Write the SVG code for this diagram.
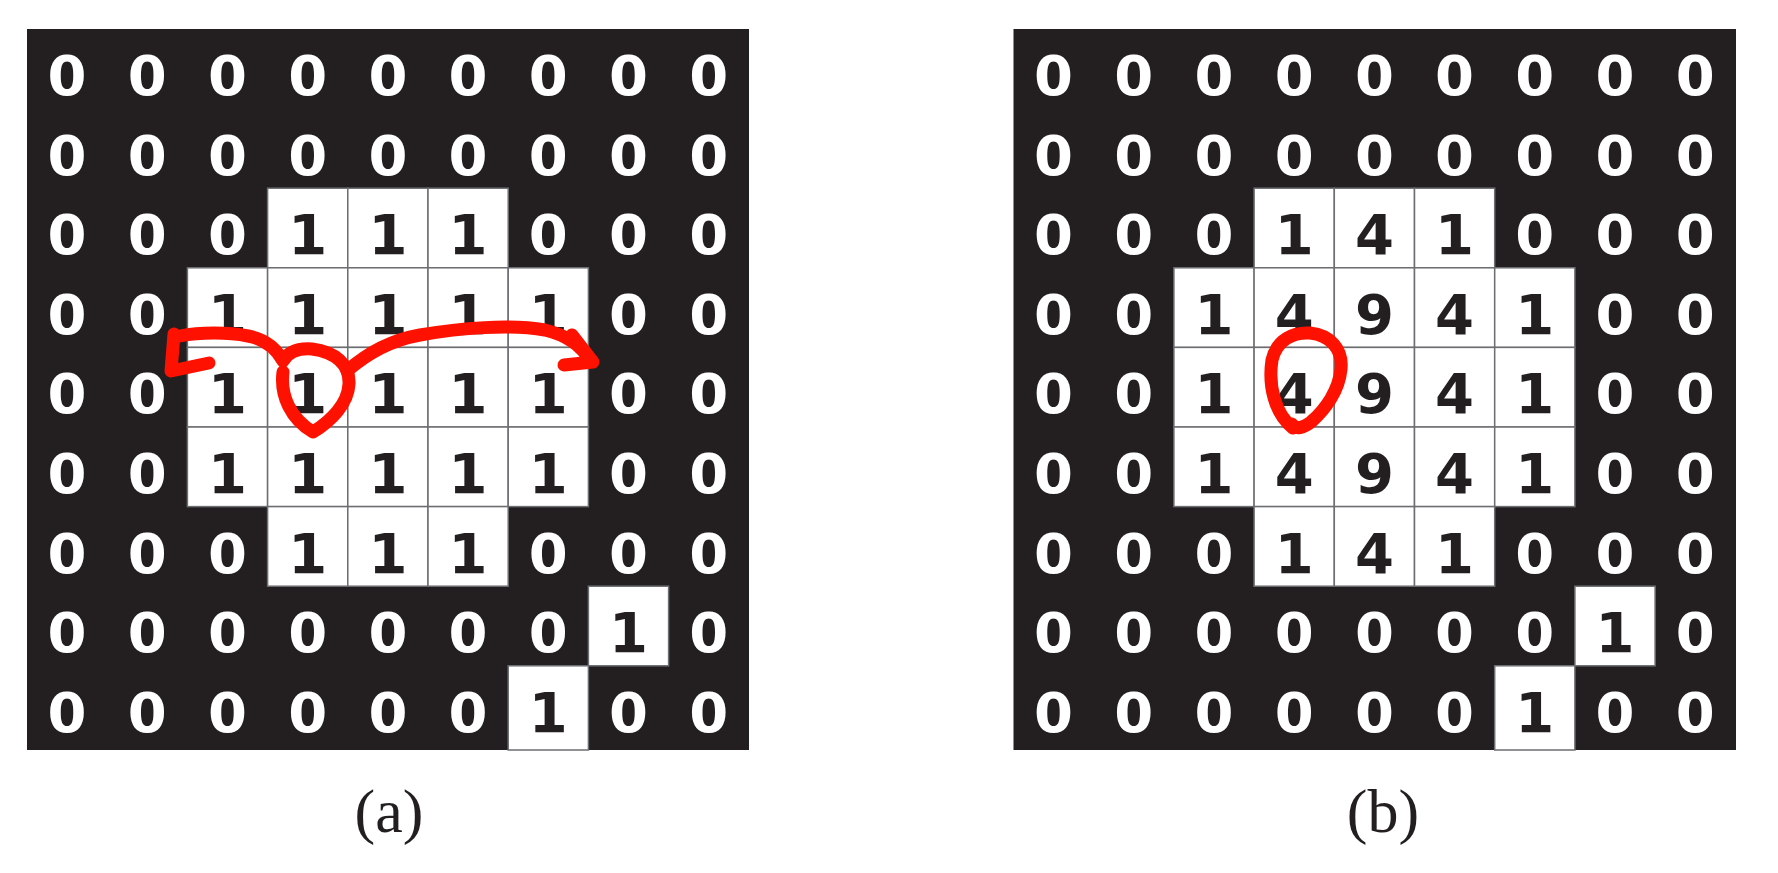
<svg xmlns="http://www.w3.org/2000/svg" width="1778" height="873" viewBox="0 0 1778 873">
<style>
.bg{fill:#231f20}
.cell{fill:#ffffff;stroke:#6d6e71;stroke-width:1.5}
.d text{font-family:"DejaVu Sans",Verdana,sans-serif;font-weight:bold;font-size:56px;text-anchor:middle;fill:#ffffff}
.d text.k{fill:#231f20}
.lab{font-family:"Liberation Serif","Times New Roman",serif;font-size:62px;fill:#231f20;text-anchor:middle}
.red{fill:none;stroke:#ff1100;stroke-width:13;stroke-linecap:round;stroke-linejoin:round}
</style>
<rect width="1778" height="873" fill="#ffffff"/>
<g id="panel-a" transform="translate(27,29)">
<rect class="bg" x="0" y="0" width="722" height="721"/>
<g id="cells-a">
<rect class="cell" x="240.6" y="159.2" width="80.2" height="79.6"/>
<rect class="cell" x="320.8" y="159.2" width="80.2" height="79.6"/>
<rect class="cell" x="401" y="159.2" width="80.2" height="79.6"/>
<rect class="cell" x="160.4" y="238.8" width="80.2" height="79.6"/>
<rect class="cell" x="240.6" y="238.8" width="80.2" height="79.6"/>
<rect class="cell" x="320.8" y="238.8" width="80.2" height="79.6"/>
<rect class="cell" x="401" y="238.8" width="80.2" height="79.6"/>
<rect class="cell" x="481.2" y="238.8" width="80.2" height="79.6"/>
<rect class="cell" x="160.4" y="318.4" width="80.2" height="79.6"/>
<rect class="cell" x="240.6" y="318.4" width="80.2" height="79.6"/>
<rect class="cell" x="320.8" y="318.4" width="80.2" height="79.6"/>
<rect class="cell" x="401" y="318.4" width="80.2" height="79.6"/>
<rect class="cell" x="481.2" y="318.4" width="80.2" height="79.6"/>
<rect class="cell" x="160.4" y="398" width="80.2" height="79.6"/>
<rect class="cell" x="240.6" y="398" width="80.2" height="79.6"/>
<rect class="cell" x="320.8" y="398" width="80.2" height="79.6"/>
<rect class="cell" x="401" y="398" width="80.2" height="79.6"/>
<rect class="cell" x="481.2" y="398" width="80.2" height="79.6"/>
<rect class="cell" x="240.6" y="477.6" width="80.2" height="79.6"/>
<rect class="cell" x="320.8" y="477.6" width="80.2" height="79.6"/>
<rect class="cell" x="401" y="477.6" width="80.2" height="79.6"/>
<rect class="cell" x="561.4" y="557.2" width="80.2" height="79.6"/>
<rect class="cell" x="481.2" y="636.8" width="80.2" height="84.2"/>
</g>
<g id="values-a" class="d">
<g transform="translate(0,66)"><text x="40.1">0</text><text x="120.3">0</text><text x="200.5">0</text><text x="280.7">0</text><text x="360.9">0</text><text x="441.1">0</text><text x="521.3">0</text><text x="601.5">0</text><text x="681.7">0</text></g>
<g transform="translate(0,145.6)"><text x="40.1">0</text><text x="120.3">0</text><text x="200.5">0</text><text x="280.7">0</text><text x="360.9">0</text><text x="441.1">0</text><text x="521.3">0</text><text x="601.5">0</text><text x="681.7">0</text></g>
<g transform="translate(0,225.2)"><text x="40.1">0</text><text x="120.3">0</text><text x="200.5">0</text><text class="k" x="280.7">1</text><text class="k" x="360.9">1</text><text class="k" x="441.1">1</text><text x="521.3">0</text><text x="601.5">0</text><text x="681.7">0</text></g>
<g transform="translate(0,304.8)"><text x="40.1">0</text><text x="120.3">0</text><text class="k" x="200.5">1</text><text class="k" x="280.7">1</text><text class="k" x="360.9">1</text><text class="k" x="441.1">1</text><text class="k" x="521.3">1</text><text x="601.5">0</text><text x="681.7">0</text></g>
<g transform="translate(0,384.4)"><text x="40.1">0</text><text x="120.3">0</text><text class="k" x="200.5">1</text><text class="k" x="280.7">1</text><text class="k" x="360.9">1</text><text class="k" x="441.1">1</text><text class="k" x="521.3">1</text><text x="601.5">0</text><text x="681.7">0</text></g>
<g transform="translate(0,464)"><text x="40.1">0</text><text x="120.3">0</text><text class="k" x="200.5">1</text><text class="k" x="280.7">1</text><text class="k" x="360.9">1</text><text class="k" x="441.1">1</text><text class="k" x="521.3">1</text><text x="601.5">0</text><text x="681.7">0</text></g>
<g transform="translate(0,543.6)"><text x="40.1">0</text><text x="120.3">0</text><text x="200.5">0</text><text class="k" x="280.7">1</text><text class="k" x="360.9">1</text><text class="k" x="441.1">1</text><text x="521.3">0</text><text x="601.5">0</text><text x="681.7">0</text></g>
<g transform="translate(0,623.2)"><text x="40.1">0</text><text x="120.3">0</text><text x="200.5">0</text><text x="280.7">0</text><text x="360.9">0</text><text x="441.1">0</text><text x="521.3">0</text><text class="k" x="601.5">1</text><text x="681.7">0</text></g>
<g transform="translate(0,702.8)"><text x="40.1">0</text><text x="120.3">0</text><text x="200.5">0</text><text x="280.7">0</text><text x="360.9">0</text><text x="441.1">0</text><text class="k" x="521.3">1</text><text x="601.5">0</text><text x="681.7">0</text></g>
</g>
</g>
<g id="panel-b" transform="translate(1013.5,29)">
<rect class="bg" x="0" y="0" width="722.5" height="721"/>
<g id="cells-b">
<rect class="cell" x="240.6" y="159.2" width="80.2" height="79.6"/>
<rect class="cell" x="320.8" y="159.2" width="80.2" height="79.6"/>
<rect class="cell" x="401" y="159.2" width="80.2" height="79.6"/>
<rect class="cell" x="160.4" y="238.8" width="80.2" height="79.6"/>
<rect class="cell" x="240.6" y="238.8" width="80.2" height="79.6"/>
<rect class="cell" x="320.8" y="238.8" width="80.2" height="79.6"/>
<rect class="cell" x="401" y="238.8" width="80.2" height="79.6"/>
<rect class="cell" x="481.2" y="238.8" width="80.2" height="79.6"/>
<rect class="cell" x="160.4" y="318.4" width="80.2" height="79.6"/>
<rect class="cell" x="240.6" y="318.4" width="80.2" height="79.6"/>
<rect class="cell" x="320.8" y="318.4" width="80.2" height="79.6"/>
<rect class="cell" x="401" y="318.4" width="80.2" height="79.6"/>
<rect class="cell" x="481.2" y="318.4" width="80.2" height="79.6"/>
<rect class="cell" x="160.4" y="398" width="80.2" height="79.6"/>
<rect class="cell" x="240.6" y="398" width="80.2" height="79.6"/>
<rect class="cell" x="320.8" y="398" width="80.2" height="79.6"/>
<rect class="cell" x="401" y="398" width="80.2" height="79.6"/>
<rect class="cell" x="481.2" y="398" width="80.2" height="79.6"/>
<rect class="cell" x="240.6" y="477.6" width="80.2" height="79.6"/>
<rect class="cell" x="320.8" y="477.6" width="80.2" height="79.6"/>
<rect class="cell" x="401" y="477.6" width="80.2" height="79.6"/>
<rect class="cell" x="561.4" y="557.2" width="80.2" height="79.6"/>
<rect class="cell" x="481.2" y="636.8" width="80.2" height="84.2"/>
</g>
<g id="values-b" class="d">
<g transform="translate(0,66)"><text x="40.1">0</text><text x="120.3">0</text><text x="200.5">0</text><text x="280.7">0</text><text x="360.9">0</text><text x="441.1">0</text><text x="521.3">0</text><text x="601.5">0</text><text x="681.7">0</text></g>
<g transform="translate(0,145.6)"><text x="40.1">0</text><text x="120.3">0</text><text x="200.5">0</text><text x="280.7">0</text><text x="360.9">0</text><text x="441.1">0</text><text x="521.3">0</text><text x="601.5">0</text><text x="681.7">0</text></g>
<g transform="translate(0,225.2)"><text x="40.1">0</text><text x="120.3">0</text><text x="200.5">0</text><text class="k" x="280.7">1</text><text class="k" x="360.9">4</text><text class="k" x="441.1">1</text><text x="521.3">0</text><text x="601.5">0</text><text x="681.7">0</text></g>
<g transform="translate(0,304.8)"><text x="40.1">0</text><text x="120.3">0</text><text class="k" x="200.5">1</text><text class="k" x="280.7">4</text><text class="k" x="360.9">9</text><text class="k" x="441.1">4</text><text class="k" x="521.3">1</text><text x="601.5">0</text><text x="681.7">0</text></g>
<g transform="translate(0,384.4)"><text x="40.1">0</text><text x="120.3">0</text><text class="k" x="200.5">1</text><text class="k" x="280.7">4</text><text class="k" x="360.9">9</text><text class="k" x="441.1">4</text><text class="k" x="521.3">1</text><text x="601.5">0</text><text x="681.7">0</text></g>
<g transform="translate(0,464)"><text x="40.1">0</text><text x="120.3">0</text><text class="k" x="200.5">1</text><text class="k" x="280.7">4</text><text class="k" x="360.9">9</text><text class="k" x="441.1">4</text><text class="k" x="521.3">1</text><text x="601.5">0</text><text x="681.7">0</text></g>
<g transform="translate(0,543.6)"><text x="40.1">0</text><text x="120.3">0</text><text x="200.5">0</text><text class="k" x="280.7">1</text><text class="k" x="360.9">4</text><text class="k" x="441.1">1</text><text x="521.3">0</text><text x="601.5">0</text><text x="681.7">0</text></g>
<g transform="translate(0,623.2)"><text x="40.1">0</text><text x="120.3">0</text><text x="200.5">0</text><text x="280.7">0</text><text x="360.9">0</text><text x="441.1">0</text><text x="521.3">0</text><text class="k" x="601.5">1</text><text x="681.7">0</text></g>
<g transform="translate(0,702.8)"><text x="40.1">0</text><text x="120.3">0</text><text x="200.5">0</text><text x="280.7">0</text><text x="360.9">0</text><text x="441.1">0</text><text class="k" x="521.3">1</text><text x="601.5">0</text><text x="681.7">0</text></g>
</g>
</g>
<g id="annotations">
<path class="red" d="M283,372 C280,396 291,419 313,432 C331,421 348,404 349,384 C350,364 335,352 312,349 C298,348 288,352 283,361 C276,348 264,339 248,336 C228,332 200,332 180,336"/>
<path class="red" d="M174,334 L171,371 L209,363"/>
<path class="red" d="M347,371 C364,356 386,341 420,335 C460,328 510,324 545,330 C570,336 583,348 590,361"/>
<path class="red" d="M572,335 L593,362 L564,365"/>
<path class="red" d="M1293,428 C1275,414 1268,386 1272,360 C1277,339 1294,332 1310,333 C1330,335 1343,349 1341,369 C1339,390 1326,409 1311,422 C1303,428 1296,430 1292,424"/>
</g>
<g id="labels">
<text class="lab" x="389" y="832">(a)</text>
<text class="lab" x="1383" y="832">(b)</text>
</g>
</svg>
